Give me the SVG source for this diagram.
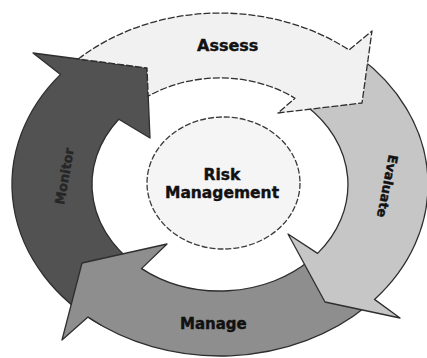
<svg xmlns="http://www.w3.org/2000/svg" width="427" height="358" viewBox="0 0 427 358">
<style>
.arrow{stroke:#2e2e2e;stroke-width:1.3;stroke-linejoin:round}
.lbl{font-family:"DejaVu Sans","Liberation Sans",sans-serif;font-weight:bold;fill:#111;stroke:#111;stroke-width:0.4}
</style>
<rect width="427" height="358" fill="#ffffff"/>
<g id="monitor">
<path class="arrow" fill="#525252" d="M 100.7 325.0 A 208 171.5 0 0 1 60.5 74.4 L 33 53 L 147 68 L 150 138 L 118.8 119.2 A 128 106.5 0 0 0 146.6 271.7 Z"/>
<text class="lbl" font-size="13" style="fill:#262626;stroke:#262626" transform="translate(69,177) rotate(-80)" text-anchor="middle">Monitor</text>
</g>
<g id="manage">
<path class="arrow" fill="#8e8e8e" d="M 367.1 305.8 A 208 171.5 0 0 1 88 317 L 62 340 L 82 263 L 167 244 L 141.5 268.6 A 128 106.5 0 0 0 310.5 259.8 Z"/>
<text class="lbl" font-size="15" x="180" y="329">Manage</text>
</g>
<g id="evaluate">
<path class="arrow" fill="#c6c6c6" d="M 359.2 57.1 A 208 171.5 0 0 1 374.5 299.4 L 400 318 L 325 302 L 288 234 L 317.6 253.4 A 128 106.5 0 0 0 305.6 105.4 Z"/>
<text class="lbl" font-size="13" transform="translate(389,154) rotate(101)">Evaluate</text>
</g>
<g id="assess">
<path class="arrow" fill="#f1f1f1" stroke-dasharray="7 2" d="M 78.3 59 A 208 171.5 0 0 1 349 50 L 372 31 L 362 103 L 278 113 L 295 98.2 A 128 106.5 0 0 0 148.2 96.2 L 147 68 Z"/>
<text class="lbl" font-size="16" x="197" y="51">Assess</text>
</g>
<g id="risk-management">
<ellipse cx="223.5" cy="183" rx="76.5" ry="66" fill="#f5f5f5" stroke="#3a3a3a" stroke-width="1.3" stroke-dasharray="6 2"/>
<text class="lbl" font-size="15.5" x="222" y="180" text-anchor="middle">Risk</text>
<text class="lbl" font-size="15.5" x="222" y="198" text-anchor="middle">Management</text>
</g>
</svg>
